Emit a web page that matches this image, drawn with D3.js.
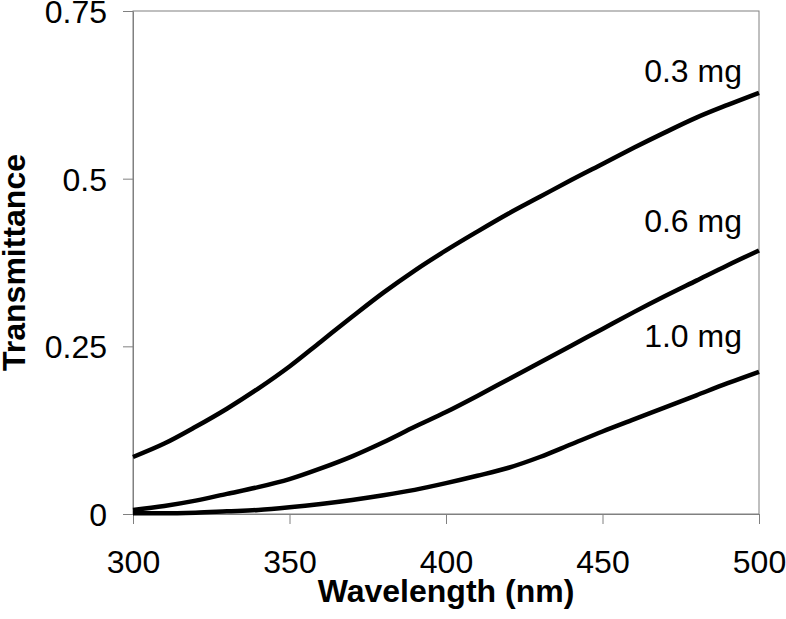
<!DOCTYPE html>
<html>
<head>
<meta charset="utf-8">
<script src="https://cdn.jsdelivr.net/npm/d3@7"></script>
<style>
  html, body { margin: 0; padding: 0; background: #fff; }
  svg { display: block; font-family: "Liberation Sans", Arial, sans-serif; }
</style>
</head>
<body>
<svg id="chart" width="786" height="619"></svg>
<script>
// ---- data ----
const wavelengths = [300,310,320,330,340,350,360,370,380,390,400,410,420,430,440,450,460,470,480,490,500];
const series03 = [0.085,0.105,0.130,0.157,0.187,0.220,0.257,0.294,0.330,0.363,0.393,0.421,0.448,0.473,0.498,0.522,0.546,0.569,0.591,0.610,0.628];
const series06 = [0.006,0.012,0.020,0.030,0.040,0.052,0.068,0.086,0.107,0.130,0.152,0.176,0.201,0.226,0.251,0.276,0.301,0.325,0.348,0.371,0.393];
const series10 = [0.001,0.001,0.002,0.004,0.006,0.010,0.015,0.021,0.028,0.036,0.046,0.057,0.069,0.085,0.104,0.123,0.141,0.159,0.177,0.195,0.212];
const seriesLabels = ["0.3 mg", "0.6 mg", "1.0 mg"];
const xTicks = [300, 350, 400, 450, 500];
const yTicks = [0, 0.25, 0.5, 0.75];
const yTickLabels = ["0", "0.25", "0.5", "0.75"];

(function () {
  // ---- layout ----
  const svg = d3.select("#chart");
  const mLeft = 133, mRight = 759, mTop = 11, mBottom = 514;
  const x = d3.scaleLinear().domain([300, 500]).range([mLeft, mRight]);
  const y = d3.scaleLinear().domain([0, 0.75]).range([mBottom, mTop]);
  const axisColor = "#808080";
  const fontFam = "'Liberation Sans', Arial, sans-serif";
  const tickFont = 32;

  // plot frame
  svg.append("rect")
    .attr("x", mLeft).attr("y", mTop)
    .attr("width", mRight - mLeft).attr("height", mBottom - mTop)
    .attr("fill", "none").attr("stroke", axisColor).attr("stroke-width", 1);

  // x axis
  const gx = svg.append("g").attr("transform", `translate(0,${mBottom})`)
    .call(d3.axisBottom(x).tickValues(xTicks).tickSize(10).tickSizeOuter(0).tickPadding(26).tickFormat(d3.format("d")));
  gx.select(".domain").attr("stroke", axisColor);
  gx.selectAll(".tick line").attr("stroke", axisColor);
  gx.selectAll(".tick text").attr("font-size", tickFont).attr("fill", "#000").attr("font-family", fontFam);

  // y axis
  const gy = svg.append("g").attr("transform", `translate(${mLeft},0)`)
    .call(d3.axisLeft(y).tickValues(yTicks).tickSize(10).tickSizeOuter(0).tickPadding(16)
      .tickFormat((d, i) => yTickLabels[i]));
  gy.select(".domain").attr("stroke", axisColor);
  gy.selectAll(".tick line").attr("stroke", axisColor);
  gy.selectAll(".tick text").attr("font-size", tickFont).attr("fill", "#000")
    .attr("font-family", fontFam).attr("dy", "0.36em");

  // lines
  const line = d3.line().x((d, i) => x(wavelengths[i])).y(d => y(d)).curve(d3.curveMonotoneX);
  [series03, series06, series10].forEach(s => {
    svg.append("path").datum(s)
      .attr("d", line)
      .attr("fill", "none")
      .attr("stroke", "#000")
      .attr("stroke-width", 4.5)
      .attr("stroke-linejoin", "round");
  });

  // series labels
  const labelPos = [[742, 82], [742, 232], [742, 347]];
  seriesLabels.forEach((t, i) => {
    svg.append("text")
      .attr("x", labelPos[i][0]).attr("y", labelPos[i][1])
      .attr("text-anchor", "end")
      .attr("font-size", tickFont)
      .text(t);
  });

  // axis titles
  svg.append("text")
    .attr("x", (mLeft + mRight) / 2).attr("y", 602)
    .attr("text-anchor", "middle")
    .attr("font-size", 32).attr("font-weight", "bold")
    .text("Wavelength (nm)");

  svg.append("text")
    .attr("transform", `translate(25,${(mTop + mBottom) / 2}) rotate(-90)`)
    .attr("text-anchor", "middle")
    .attr("font-size", 32).attr("font-weight", "bold")
    .text("Transmittance");
})();
</script>
</body>
</html>
